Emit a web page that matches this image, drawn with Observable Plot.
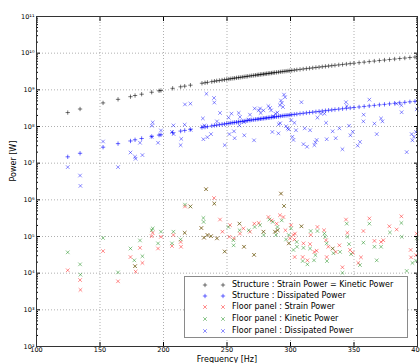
<!DOCTYPE html>
<html><head><meta charset="utf-8">
<script src="https://cdn.jsdelivr.net/npm/d3@7"></script>
<script src="https://cdn.jsdelivr.net/npm/@observablehq/plot@0.6"></script>
<style>
html,body{margin:0;padding:0;background:#fff;}
#wrap{position:relative;width:420px;height:363px;font-family:"DejaVu Sans",sans-serif;}
#legend{position:absolute;left:184px;top:276px;width:224px;height:62px;background:#fff;border:1px solid #8a8a8a;box-sizing:border-box;font-size:8px;color:#000;}
#legend .row{position:absolute;left:0;height:10px;width:100%;}
#legend .lab{position:absolute;left:47px;top:0;line-height:10px;white-space:nowrap;}
#legend svg{position:absolute;left:16px;top:0;}
</style>
</head><body>
<div id="wrap"></div>
<script>
// ---- Structure modes (frequency in Hz) ----
const structFreq = [124.6,134.3,152.4,164.2,174,177.6,182.8,190.7,196.5,198.0,207.2,213.5,216.7,221.2,230.3,232.7,234.6,238,240.1,241.9,244.0,246.1,248,249.8,251.5,253,254.6,256,257.5,259,260.4,262,263.5,265,266.3,268,269.5,271,272.4,273.8,275,276.3,277.5,278.8,280,281.2,282.5,283.7,285,286.3,287.5,289,290.5,292,293.5,295,296.5,298,299.5,301,303,305,307.5,310,312.5,315,317.5,320,322.5,325,327.5,330,332.5,335,338,341,344,347,350,354,358,362,366,370,374,378,382,386,390,394,398];
// Structure : Strain Power = Kinetic Power [W]
const structStrain = [2.4e8,3.0e8,4.4e8,5.5e8,6.5e8,7.0e8,7.6e8,8.6e8,9.4e8,9.6e8,1.10e9,1.21e9,1.26e9,1.34e9,1.51e9,1.56e9,1.60e9,1.67e9,1.72e9,1.76e9,1.80e9,1.85e9,1.89e9,1.93e9,1.97e9,2.01e9,2.05e9,2.08e9,2.12e9,2.16e9,2.19e9,2.23e9,2.27e9,2.31e9,2.34e9,2.39e9,2.43e9,2.47e9,2.51e9,2.55e9,2.58e9,2.62e9,2.65e9,2.69e9,2.72e9,2.76e9,2.80e9,2.83e9,2.87e9,2.91e9,2.95e9,2.99e9,3.04e9,3.09e9,3.14e9,3.19e9,3.24e9,3.28e9,3.33e9,3.38e9,3.45e9,3.52e9,3.61e9,3.70e9,3.79e9,3.88e9,3.97e9,4.07e9,4.16e9,4.26e9,4.36e9,4.46e9,4.56e9,4.67e9,4.79e9,4.92e9,5.05e9,5.18e9,5.32e9,5.50e9,5.69e9,5.88e9,6.08e9,6.29e9,6.49e9,6.70e9,6.92e9,7.14e9,7.36e9,7.59e9,7.82e9];
// Structure : Dissipated Power [W]
const structDiss = [1.49e7,1.86e7,2.73e7,3.41e7,4.03e7,4.34e7,4.71e7,5.33e7,5.83e7,5.95e7,6.82e7,7.50e7,7.81e7,8.31e7,9.36e7,9.67e7,9.92e7,1.04e8,1.07e8,1.09e8,1.12e8,1.15e8,1.17e8,1.20e8,1.22e8,1.25e8,1.27e8,1.29e8,1.31e8,1.34e8,1.36e8,1.38e8,1.41e8,1.43e8,1.45e8,1.48e8,1.51e8,1.53e8,1.56e8,1.58e8,1.60e8,1.62e8,1.64e8,1.67e8,1.69e8,1.71e8,1.74e8,1.75e8,1.78e8,1.80e8,1.83e8,1.85e8,1.88e8,1.92e8,1.95e8,1.98e8,2.01e8,2.03e8,2.06e8,2.10e8,2.14e8,2.18e8,2.24e8,2.29e8,2.35e8,2.41e8,2.46e8,2.52e8,2.58e8,2.64e8,2.70e8,2.77e8,2.83e8,2.90e8,2.97e8,3.05e8,3.13e8,3.21e8,3.30e8,3.41e8,3.53e8,3.65e8,3.77e8,3.90e8,4.02e8,4.15e8,4.29e8,4.43e8,4.56e8,4.71e8,4.85e8];

// ---- Floor panel : Strain Power ----
const fpStrainFreq = [124.6,134.3,134.6,152.4,164.2,174,177.6,178.1,181.5,183.4,190.7,191.5,195.7,198,206.7,207.8,213.5,213.8,216.7,216.9,221.2,229.8,231.9,233.5,234.6,237.4,239.8,240,242.1,244.5,246.4,248.2,251.9,252.4,255.5,259.8,260.2,262.9,263.4,268.1,271.3,271.5,275,278.7,282.6,285.2,287.8,289.1,289.9,291.7,292.5,294.4,294.9,296,298.6,299.6,300.4,302.3,303.1,303.3,303.5,308.6,309.6,310.2,313.3,315.4,315.9,318.8,320.6,321.2,326.4,328,328.5,329.8,333.2,335.6,338.5,340.9,343.7,344.8,346.9,349,353.4,355.5,357.4,362.1,366.1,371.3,373.1,377.8,383.6,387.3,394.6,394.9,398.8,399.4];
const fpStrainPower = [1.2e4,6.5e3,3.5e3,4.0e4,6.0e3,2.75e4,1.55e4,1.1e4,4.9e4,1.9e4,1.02e5,1.26e5,4.7e4,9.8e4,5.5e4,1.1e5,7.1e4,5.25e4,1.26e5,6.6e5,6.6e5,1.7e5,9.3e4,1.95e6,1.1e5,1.02e5,1.12e6,7.9e5,8.9e4,2.9e5,1.35e5,3.9e4,9.8e4,2.04e5,8.9e4,2.24e5,1.2e5,1.66e5,5.25e4,1.35e5,3.16e4,2.24e5,2.34e5,1.35e5,3.4e5,2.75e5,1.35e5,2.24e5,1.48e5,3.8e5,1.48e6,3.4e5,6.8e5,1.48e5,6.5e4,8.9e4,2.04e5,1.1e5,8.3e4,2.75e4,1.2e5,1.9e5,2.75e4,6.5e4,2.24e4,6.2e4,1.1e5,3.8e4,4.1e4,1.82e5,1.48e5,7.9e4,2.75e4,5.25e4,4.7e4,3.8e4,5.75e4,1.45e4,2.9e5,1.26e5,4.3e4,3.6e4,1.9e4,2.7e4,1.41e5,3.1e5,7.6e4,7.1e4,7.9e4,1.9e5,1.55e5,3.55e5,4.3e4,2.7e4,3.1e4,1.2e5];

// ---- Floor panel : Kinetic Power ----
const fpKineticFreq = [124.6,134.3,134.6,152.4,164.2,174,177,177.6,181.5,183.4,190.7,191.5,195.7,198,206.7,207.8,213.5,216.7,216.9,221.2,229.8,231.4,231.6,231.9,233.5,234.6,237.4,240,242.1,248.2,251.1,255,255.2,259.8,259.9,263.4,267.1,271.3,271.8,276,278.7,278.9,283.4,286,287.8,288.6,289.7,289.9,292.5,293.1,294.9,296.5,298.6,298.8,300.4,302.3,304.9,305.1,308.6,309.6,310.2,313.3,315.4,315.9,318.5,319.6,321.2,326.7,327.2,328.5,328.7,333.2,333.8,339,340.9,344.3,344.8,346.1,347.7,354.7,357.4,362.1,366.1,367.9,371.3,378.3,387.3,387.6,391.5,396,398.8,399.4];
const fpKineticPower = [3.7e4,1.74e4,9.1e3,9.1e4,1.05e4,4.7e4,2.24e4,1.55e4,7.8e4,2.9e4,1.48e5,1.66e5,6.5e4,1.35e5,6.5e4,1.35e5,8.3e4,1.26e5,7.4e5,6.6e5,1.7e5,3.2e5,2.5e5,9.3e4,1.95e6,1.1e5,1.02e5,7.9e5,8.9e4,3.9e4,1.82e5,7.9e4,5.75e4,2.24e5,1.48e5,5.25e4,1.48e5,3.16e4,1.82e5,2.04e5,1.35e5,1.1e5,2.9e5,2.5e5,1.35e5,1.1e5,1.82e5,1.48e5,1.48e6,2.75e5,6.8e5,8.3e4,1.1e5,6.5e4,1.66e5,4.3e4,7.1e4,5.25e4,1.9e5,2.14e4,4.9e4,1.74e4,4.7e4,1.41e5,2.24e4,3.1e4,1.41e5,1.2e5,9.8e4,6.5e4,2.14e4,4.7e4,3.5e4,3.8e4,1.02e4,2.24e5,9.8e4,6.2e4,3.3e4,1.66e4,6.8e4,2.24e5,5.25e4,2.24e4,5.25e4,1.29e5,2.34e5,9.8e4,1.15e4,1.9e4,2.2e4,8.9e4];

// ---- Floor panel : Dissipated Power ----
const fpDissFreq = [124.6,134.3,134.6,152.4,164.2,174,177.6,178,181.5,183.4,190.7,191.5,190.9,195.7,198,207.8,206.7,208,213.5,214,216.7,216.9,221.2,221.4,231,230.6,231.4,232.2,234.6,233.8,237.4,239.8,240,242.1,244.5,248.2,253.5,251.3,255.5,251.9,256,259.2,260.2,259.8,263.4,263.6,267.1,268.1,271.3,271.8,275,276,276.5,278.7,282.6,283.9,284.7,285.7,286.5,288.1,289.7,290.5,290.7,291.7,291.9,292.5,293.1,294.1,294.9,295.7,296.5,297.8,298.6,300.4,301.5,302.3,303.1,304.3,308.6,310.2,311.2,313,315.4,318.8,319.6,320.6,321.2,324,326.7,328,328.5,333.2,335.6,338.5,340.9,343.7,344.3,346.1,347.2,349,352.9,354.7,357.4,357.6,362.1,366.1,367.9,371.3,372.4,383.6,387.3,387.5,391.5,395.4,396,397.2,398.8,399.4];
const fpDissPower = [7.8e6,4.6e6,2.4e6,3.9e7,7.8e6,1.95e7,1.5e7,1.32e7,3.6e7,1.66e7,5.25e7,1.29e8,1.05e8,3.6e7,7.8e7,1.07e8,7.1e7,6.2e7,3.1e7,4.6e7,1.12e8,4.0e8,4.2e8,8.1e7,1.66e8,9.8e7,4.5e7,1.07e8,5.1e7,7.8e8,6.2e7,6.0e8,4.5e8,1.38e8,2.34e8,3.1e7,2.24e8,1.74e8,7.4e7,6.2e7,4.8e7,2.34e8,1.82e8,1.07e8,1.32e8,5.75e7,1.55e8,2.1e8,4.2e7,3.1e8,2.75e8,3.1e8,2.34e8,2.75e8,3.6e8,3.2e8,2.75e8,7.1e7,1.9e8,2.24e8,2.4e8,6.5e7,1.15e8,3.8e8,1.23e8,5.1e8,4.4e8,3.4e8,7.4e8,6.3e8,1.02e8,8.9e7,8.3e7,1.48e8,5.25e7,4.3e7,1.26e8,7.9e7,4.6e8,3.3e7,8.9e7,2.8e7,7.9e7,3.1e7,3.7e7,4.3e7,1.74e8,2.24e8,2.24e8,1.26e8,4.5e7,7.4e7,4.8e7,8.9e7,2.4e7,4.6e8,3.6e8,1.05e8,5.75e7,7.2e7,3.0e7,3.8e7,1.38e8,2.1e8,5.4e8,1.2e8,6.2e7,1.66e8,1.38e8,4.2e8,3.8e8,2.45e8,2.0e7,6.2e7,4.2e7,5.25e7,7.1e7,2.95e8];

// ---- Axes ----
const xTicks = [100,150,200,250,300,350,400];
const yTicks = [1e2,1e3,1e4,1e5,1e6,1e7,1e8,1e9,1e10,1e11];
const xLabel = "Frequency [Hz]";
const yLabel = "Power [W]";
const seriesNames = [
  "Structure : Strain Power = Kinetic Power",
  "Structure : Dissipated Power",
  "Floor panel : Strain Power",
  "Floor panel : Kinetic Power",
  "Floor panel : Dissipated Power"
];

const sup = {"0":"⁰","1":"¹","2":"²","3":"³","4":"⁴","5":"⁵","6":"⁶","7":"⁷","8":"⁸","9":"⁹"};
const fmtPow = d => "10" + String(Math.round(Math.log10(d))).split("").map(c => sup[c]).join("");
const minorTicks = [];
for (let e = 2; e < 11; e++) for (let m = 2; m < 10; m++) minorTicks.push(m * Math.pow(10, e));

const pairs = (xs, ys) => xs.map((x, i) => ({x, y: ys[i]}));
const sS = pairs(structFreq, structStrain);
const sD = pairs(structFreq, structDiss);
const fS = pairs(fpStrainFreq, fpStrainPower);
const fK = pairs(fpKineticFreq, fpKineticPower);
const fD = pairs(fpDissFreq, fpDissPower);

const grid = {stroke: "#000", strokeOpacity: 0.45, strokeDasharray: "1,2", strokeWidth: 0.7};

const chart = Plot.plot({
  width: 420, height: 363,
  marginLeft: 36, marginRight: 3, marginTop: 16, marginBottom: 17,
  style: {fontFamily: "DejaVu Sans", fontSize: "6.5px", background: "#fff", overflow: "visible"},
  x: {domain: [100, 400]},
  y: {type: "log", domain: [1e2, 1e11]},
  marks: [
    Plot.gridX(xTicks, grid),
    Plot.gridY(yTicks, grid),
    Plot.dot(fS, {x: "x", y: "y", symbol: "times", r: 1.8, stroke: "#ff0000", strokeOpacity: 0.5, strokeWidth: 0.9}),
    Plot.dot(fK, {x: "x", y: "y", symbol: "times", r: 1.8, stroke: "#008000", strokeOpacity: 0.5, strokeWidth: 0.9}),
    Plot.dot(fD, {x: "x", y: "y", symbol: "times", r: 1.8, stroke: "#0000ff", strokeOpacity: 0.5, strokeWidth: 0.9}),
    Plot.dot(sS, {x: "x", y: "y", symbol: "plus", r: 1.5, stroke: "#000", strokeOpacity: 0.6, strokeWidth: 0.9}),
    Plot.dot(sD, {x: "x", y: "y", symbol: "plus", r: 1.5, stroke: "#0000ff", strokeOpacity: 0.65, strokeWidth: 0.9}),
    Plot.axisX(xTicks, {anchor: "bottom", tickSize: -4, tickPadding: 5, label: null, tickFormat: d => String(d)}),
    Plot.axisX(xTicks, {anchor: "top", tickSize: -4, tickFormat: () => "", label: null}),
    Plot.axisY(yTicks, {anchor: "left", tickSize: -4, tickPadding: 6, label: null, tickFormat: fmtPow}),
    Plot.axisY(yTicks, {anchor: "right", tickSize: -4, tickFormat: () => "", label: null}),
    Plot.axisY(minorTicks, {anchor: "left", tickSize: -2, tickFormat: () => "", label: null}),
    Plot.axisY(minorTicks, {anchor: "right", tickSize: -2, tickFormat: () => "", label: null}),
    Plot.frame({stroke: "#333", strokeWidth: 1}),
    Plot.text([xLabel], {frameAnchor: "bottom", dy: 13, lineAnchor: "middle", fontSize: 8}),
    Plot.text([yLabel], {frameAnchor: "left", rotate: -90, dx: -23, lineAnchor: "middle", fontSize: 8})
  ]
});
const wrap = document.getElementById("wrap");
wrap.appendChild(chart);

// ---- Legend (inside axes, lower right) ----
const legendStyles = [
  {sym: d3.symbolPlus, r: 1.5, color: "#000", op: 0.6},
  {sym: d3.symbolPlus, r: 1.5, color: "#0000ff", op: 0.65},
  {sym: d3.symbolTimes, r: 1.8, color: "#ff0000", op: 0.5},
  {sym: d3.symbolTimes, r: 1.8, color: "#008000", op: 0.5},
  {sym: d3.symbolTimes, r: 1.8, color: "#0000ff", op: 0.5}
];
const legend = document.createElement("div");
legend.id = "legend";
const rowTops = [3, 14, 25, 37, 49];
seriesNames.forEach((name, i) => {
  const st = legendStyles[i];
  const row = document.createElement("div");
  row.className = "row";
  row.style.top = rowTops[i] + "px";
  const path = d3.symbol(st.sym, Math.PI * st.r * st.r)();
  row.innerHTML =
    `<svg width="26" height="10"><g fill="none" stroke="${st.color}" stroke-opacity="${st.op}" stroke-width="0.9">` +
    `<path transform="translate(4,5)" d="${path}"/><path transform="translate(22,5)" d="${path}"/></g></svg>` +
    `<span class="lab">${name}</span>`;
  legend.appendChild(row);
});
wrap.appendChild(legend);
</script>
</body></html>
